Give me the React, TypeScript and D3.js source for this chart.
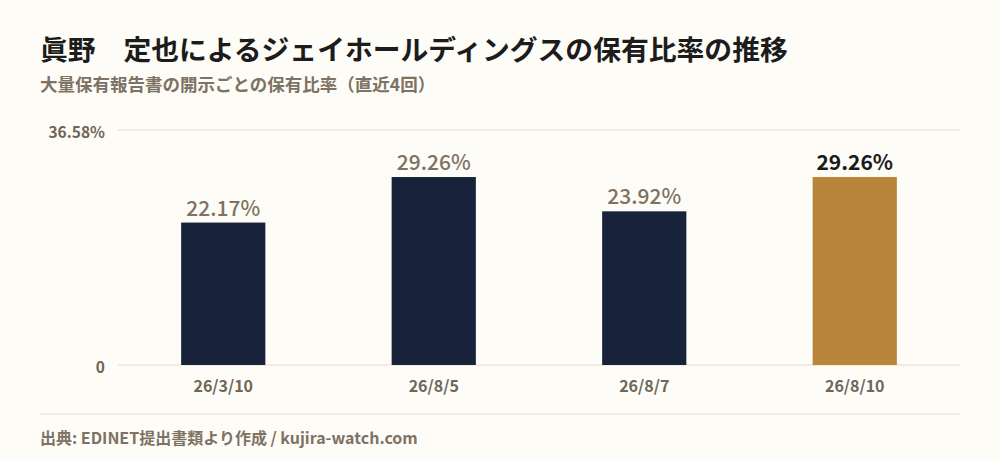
import React from "react";
import * as d3 from "d3";

const categories = ["26/3/10", "26/8/5", "26/8/7", "26/8/10"];
const values = [22.17, 29.26, 23.92, 29.26];
const yTicks = [0, 36.58];
const yTickLabels = ["0", "36.58%"];

const W = 1000;
const H = 460;
const FONT = "'Noto Sans CJK JP', 'Noto Sans', sans-serif";

export default function App() {
  const x = d3
    .scaleBand<string>()
    .domain(categories)
    .range([118, 960])
    .paddingInner(0.6)
    .paddingOuter(0.3);
  const y = d3.scaleLinear().domain([0, 36.58]).range([365, 130]);
  const last = categories.length - 1;

  return (
    <svg
      width={W}
      height={H}
      viewBox={`0 0 ${W} ${H}`}
      style={{ position: "absolute", left: 0, top: 0, display: "block" }}
      fontFamily={FONT}
    >
      <rect x={0} y={0} width={W} height={H} fill="#fdfcf7" />
      <text x={40} y={60} fontSize={27.8} fontWeight={700} fill="#1c1c1c">
        眞野　定也によるジェイホールディングスの保有比率の推移
      </text>
      <text x={40} y={91} fontSize={17.5} fontWeight={700} fill="#7d7263">
        大量保有報告書の開示ごとの保有比率（直近4回）
      </text>

      {yTicks.map((t, i) => (
        <g key={t}>
          <line x1={118} x2={960} y1={y(t)} y2={y(t)} stroke="#e6dcc6" strokeWidth={1} />
          <text
            x={105}
            y={y(t) + 3}
            dy="0.35em"
            textAnchor="end"
            fontSize={15.5}
            fontWeight={700}
            fill="#6f6658"
          >
            {yTickLabels[i]}
          </text>
        </g>
      ))}

      {categories.map((c, i) => (
        <g key={c}>
          <rect
            x={x(c)}
            y={y(values[i])}
            width={x.bandwidth()}
            height={y(0) - y(values[i])}
            fill={i === last ? "#b8863b" : "#18223a"}
          />
          <text
            x={(x(c) as number) + x.bandwidth() / 2}
            y={y(values[i]) - 7}
            textAnchor="middle"
            fontSize={21}
            fontWeight={i === last ? 600 : 500}
            fill={i === last ? "#1a1a1a" : "#7d7263"}
          >
            {values[i].toFixed(2)}%
          </text>
          <text
            x={(x(c) as number) + x.bandwidth() / 2}
            y={392}
            textAnchor="middle"
            fontSize={16}
            fontWeight={700}
            fill="#6f6658"
          >
            {c}
          </text>
        </g>
      ))}

      <line x1={40} x2={960} y1={414} y2={414} stroke="#e6dcc6" strokeWidth={1} />
      <text x={40} y={444} fontSize={16} fontWeight={700} fill="#7d7263">
        出典: EDINET提出書類より作成 / kujira-watch.com
      </text>
    </svg>
  );
}
